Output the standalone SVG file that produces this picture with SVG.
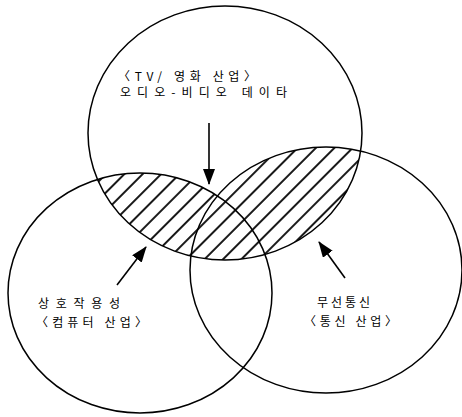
<svg xmlns="http://www.w3.org/2000/svg" width="462" height="417" viewBox="0 0 462 417">
<style>
.c{fill:none;stroke:#000;stroke-width:1.5}
.t{font-family:"Noto Sans CJK KR","DejaVu Sans",sans-serif;font-size:12px;fill:#000}
.a{stroke:#000;stroke-width:1.6;fill:none}
</style>
<defs>
<pattern id="hatch" width="13" height="13" patternUnits="userSpaceOnUse" patternTransform="rotate(45)">
<line x1="3" y1="0" x2="3" y2="13" stroke="#000" stroke-width="1.8"/>
</pattern>
<clipPath id="clipT"><ellipse cx="225" cy="133" rx="137" ry="127"/></clipPath>
<clipPath id="clipLR"><ellipse cx="140" cy="293" rx="132" ry="120"/><ellipse cx="326" cy="270" rx="136" ry="123"/></clipPath>
<marker id="ah" markerWidth="16" markerHeight="12" refX="15" refY="6" orient="auto" markerUnits="userSpaceOnUse">
<path d="M0,0 L16,6 L0,12 Z" fill="#000"/>
</marker>
</defs>
<g id="hatching" clip-path="url(#clipT)">
<rect x="0" y="0" width="462" height="417" fill="url(#hatch)" clip-path="url(#clipLR)"/>
</g>
<g id="node-tv">
<ellipse class="c" cx="225" cy="133" rx="137" ry="127"/>
<text class="t" x="118" y="81" textLength="138" lengthAdjust="spacing">〈TV/ 영화 산업〉</text>
<text class="t" x="120" y="97" textLength="167" lengthAdjust="spacing">오디오-비디오 데이타</text>
</g>
<g id="node-computer">
<ellipse class="c" cx="140" cy="293" rx="132" ry="120"/>
<text class="t" x="38" y="308" textLength="82" lengthAdjust="spacing">상호작용성</text>
<text class="t" x="36" y="327" textLength="111" lengthAdjust="spacing">〈컴퓨터 산업〉</text>
</g>
<g id="node-telecom">
<ellipse class="c" cx="326" cy="270" rx="136" ry="123"/>
<text class="t" x="317" y="307" textLength="53" lengthAdjust="spacing">무선통신</text>
<text class="t" x="304" y="326" textLength="93" lengthAdjust="spacing">〈통신 산업〉</text>
</g>
<g id="connectors">
<line class="a" x1="209" y1="123" x2="209" y2="184" marker-end="url(#ah)"/>
<line class="a" x1="117" y1="285" x2="146" y2="247" marker-end="url(#ah)"/>
<line class="a" x1="345" y1="278" x2="319" y2="242" marker-end="url(#ah)"/>
</g>
</svg>
